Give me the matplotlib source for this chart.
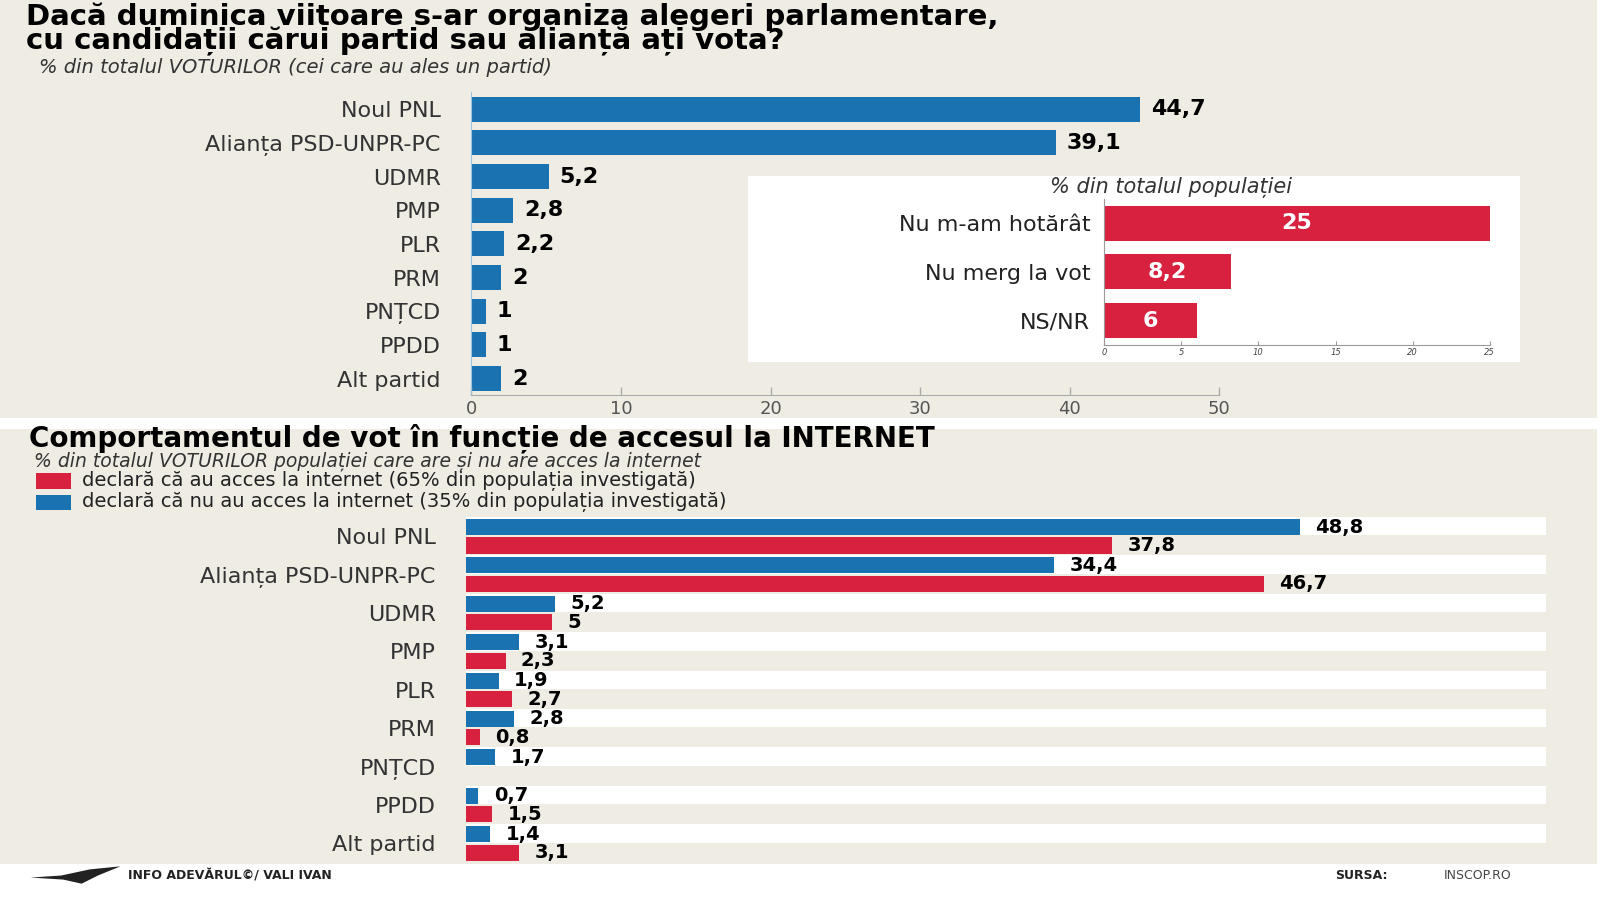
import matplotlib
matplotlib.use("Agg")
import matplotlib.pyplot as plt
from matplotlib.patches import Rectangle, Polygon

# ---------------- data ----------------
top_parties = ["Noul PNL", "Alianța PSD-UNPR-PC", "UDMR", "PMP", "PLR", "PRM",
               "PNȚCD", "PPDD", "Alt partid"]
top_values = [44.7, 39.1, 5.2, 2.8, 2.2, 2, 1, 1, 2]
top_ticks = [0, 10, 20, 30, 40, 50]

inset_labels = ["Nu m-am hotărât", "Nu merg la vot", "NS/NR"]
inset_values = [25, 8.2, 6]
inset_ticks = [0, 5, 10, 15, 20, 25]

bottom_parties = top_parties
no_internet = [48.8, 34.4, 5.2, 3.1, 1.9, 2.8, 1.7, 0.7, 1.4]   # blue
with_internet = [37.8, 46.7, 5, 2.3, 2.7, 0.8, 0, 1.5, 3.1]     # red

title1 = "Dacă duminica viitoare s-ar organiza alegeri parlamentare,"
title2 = "cu candidații cărui partid sau alianță ați vota?"
subtitle1 = "% din totalul VOTURILOR (cei care au ales un partid)"
inset_title = "% din totalul populației"
title3 = "Comportamentul de vot în funcție de accesul la INTERNET"
subtitle3 = "% din totalul VOTURILOR populației care are și nu are acces la internet"
legend_red = "declară că au acces la internet (65% din populația investigată)"
legend_blue = "declară că nu au acces la internet (35% din populația investigată)"

# ---------------- style ----------------
BLUE = "#1a72b0"
RED = "#d8203f"
BEIGE = "#efece4"
DARK = "#222222"
GREY = "#333333"

plt.rcParams['font.family'] = ['DejaVu Sans']

W, H = 1568.0, 882.0
def fx(x): return x / W
def fy(y): return 1 - y / H

def fmt(v):
    return f"{v:g}".replace(".", ",")

fig = plt.figure(figsize=(16, 9), dpi=100, facecolor="white")

# panel backgrounds
fig.patches.append(Rectangle((0, fy(410)), fx(1565), 410 / H, transform=fig.transFigure,
                             facecolor=BEIGE, edgecolor="none", zorder=-2))
fig.patches.append(Rectangle((0, fy(847)), fx(1565), (847 - 420) / H, transform=fig.transFigure,
                             facecolor=BEIGE, edgecolor="none", zorder=-2))

# titles
fig.text(fx(25), fy(2), title1 + "\n" + title2, fontsize=21, fontweight="heavy",
         color="black", ha="left", va="top", linespacing=0.86)
fig.text(fx(38), fy(66), subtitle1, fontsize=14, style="italic", color=GREY,
         ha="left", va="center")

# ---------------- top chart ----------------
ax1 = fig.add_axes([fx(462), fy(387.5), fx(1195) - fx(462), (387.5 - 90.5) / H])
ax1.set_facecolor("none")
ypos = list(range(len(top_parties)))
ax1.barh(ypos, top_values, height=0.74, color=BLUE)
ax1.set_xlim(0, 50)
ax1.set_ylim(len(top_parties) - 0.5, -0.5)
for y, v in zip(ypos, top_values):
    ax1.text(v + 0.7, y, fmt(v), va="center", ha="left", fontsize=16,
             fontweight="heavy", color="black")
ax1.set_yticks(ypos)
ax1.set_yticklabels(top_parties, fontsize=16, color=GREY)
ax1.tick_params(axis="y", length=0, pad=22)
ax1.set_xticks(top_ticks)
ax1.set_xticklabels([str(t) for t in top_ticks])
ax1.tick_params(axis="x", direction="in", length=6, width=1, color="#aaaaaa",
                labelsize=13, labelcolor="#555555", pad=3)
for s in ["top", "right"]:
    ax1.spines[s].set_visible(False)
ax1.spines["left"].set_color("#9ec3df")
ax1.spines["bottom"].set_color("#aaaaaa")

# ---------------- inset ----------------
fig.patches.append(Rectangle((fx(733), fy(355)), (1490 - 733) / W, (355 - 172) / H,
                             transform=fig.transFigure, facecolor="white",
                             edgecolor="none", zorder=1))
fig.text(fx(1148), fy(184), inset_title, fontsize=15, style="italic", color=GREY,
         ha="center", va="center", zorder=4)
ax2 = fig.add_axes([fx(1082), fy(338), (1460 - 1082) / W, (338 - 195) / H])
ax2.set_zorder(3)
ax2.set_facecolor("none")
ipos = list(range(len(inset_labels)))
ax2.barh(ipos, inset_values, height=0.72, color=RED)
ax2.set_xlim(0, 25)
ax2.set_ylim(len(inset_labels) - 0.5, -0.5)
for y, v in zip(ipos, inset_values):
    ax2.text(v / 2, y, fmt(v), va="center", ha="center", fontsize=16,
             fontweight="heavy", color="white")
ax2.set_yticks(ipos)
ax2.set_yticklabels(inset_labels, fontsize=16, color=DARK)
ax2.tick_params(axis="y", length=0, pad=10)
ax2.set_xticks(inset_ticks)
ax2.set_xticklabels([str(t) for t in inset_ticks], fontsize=6, style="italic")
ax2.tick_params(axis="x", direction="in", length=3, width=0.8, color="#999999",
                labelcolor="#444444", pad=2)
for s in ["top", "right"]:
    ax2.spines[s].set_visible(False)
ax2.spines["left"].set_color("#999999")
ax2.spines["left"].set_linewidth(0.8)
ax2.spines["bottom"].set_color("#999999")
ax2.spines["bottom"].set_linewidth(0.8)

# ---------------- bottom chart ----------------
fig.text(fx(28), fy(429), title3, fontsize=20, fontweight="heavy", color="black",
         ha="left", va="center")
fig.text(fx(33), fy(452.5), subtitle3, fontsize=13.5, style="italic", color=GREY,
         ha="left", va="center")
fig.patches.append(Rectangle((fx(35), fy(479)), 35 / W, 15 / H, transform=fig.transFigure,
                             facecolor=RED, edgecolor="none"))
fig.patches.append(Rectangle((fx(35), fy(500)), 35 / W, 15 / H, transform=fig.transFigure,
                             facecolor=BLUE, edgecolor="none"))
fig.text(fx(80), fy(482), legend_red + "\n" + legend_blue, fontsize=14, color=DARK,
         ha="left", va="center", linespacing=1.08)

ax3 = fig.add_axes([fx(457), fy(845.3), (1515 - 457) / W, (845.3 - 506.7) / H])
ax3.set_facecolor("none")
n = len(bottom_parties)
gpos = list(range(n))
for g in gpos:
    ax3.axhspan(g - 0.5, g - 0.02, color="white", zorder=0, lw=0)
blue_y = [g - 0.24 for g in gpos]
red_y = [g + 0.24 for g in gpos]
ax3.barh(blue_y, no_internet, height=0.42, color=BLUE, zorder=2)
ax3.barh(red_y, with_internet, height=0.42, color=RED, zorder=2)
for y, v in zip(blue_y, no_internet):
    if v > 0:
        ax3.text(v + 0.9, y, fmt(v), va="center", ha="left", fontsize=14,
                 fontweight="heavy", color="black", zorder=3)
for y, v in zip(red_y, with_internet):
    if v > 0:
        ax3.text(v + 0.9, y, fmt(v), va="center", ha="left", fontsize=14,
                 fontweight="heavy", color="black", zorder=3)
ax3.set_xlim(0, 63.2)
ax3.set_ylim(n - 0.5, -0.5)
ax3.set_yticks(gpos)
ax3.set_yticklabels(bottom_parties, fontsize=16, color=GREY)
ax3.tick_params(axis="y", length=0, pad=22)
ax3.set_xticks([])
for s in ax3.spines.values():
    s.set_visible(False)

# ---------------- footer ----------------
bird = Polygon([(fx(30), fy(860)), (fx(60), fy(858)), (fx(88), fy(852)),
                (fx(118), fy(849)), (fx(96), fy(858)), (fx(80), fy(866)),
                (fx(62), fy(862))], closed=True, transform=fig.transFigure,
               facecolor=DARK, edgecolor="none")
fig.patches.append(bird)
fig.text(fx(125), fy(858), "INFO ADEVĂRUL©/ VALI IVAN", fontsize=9, fontweight="bold",
         color=DARK, ha="left", va="center")
fig.text(fx(1308), fy(858), "SURSA:", fontsize=9, fontweight="bold", color=DARK,
         ha="left", va="center")
fig.text(fx(1415), fy(858), "INSCOP.RO", fontsize=9, color="#444444",
         ha="left", va="center")

fig.savefig("out.png", dpi=100, facecolor="white")
